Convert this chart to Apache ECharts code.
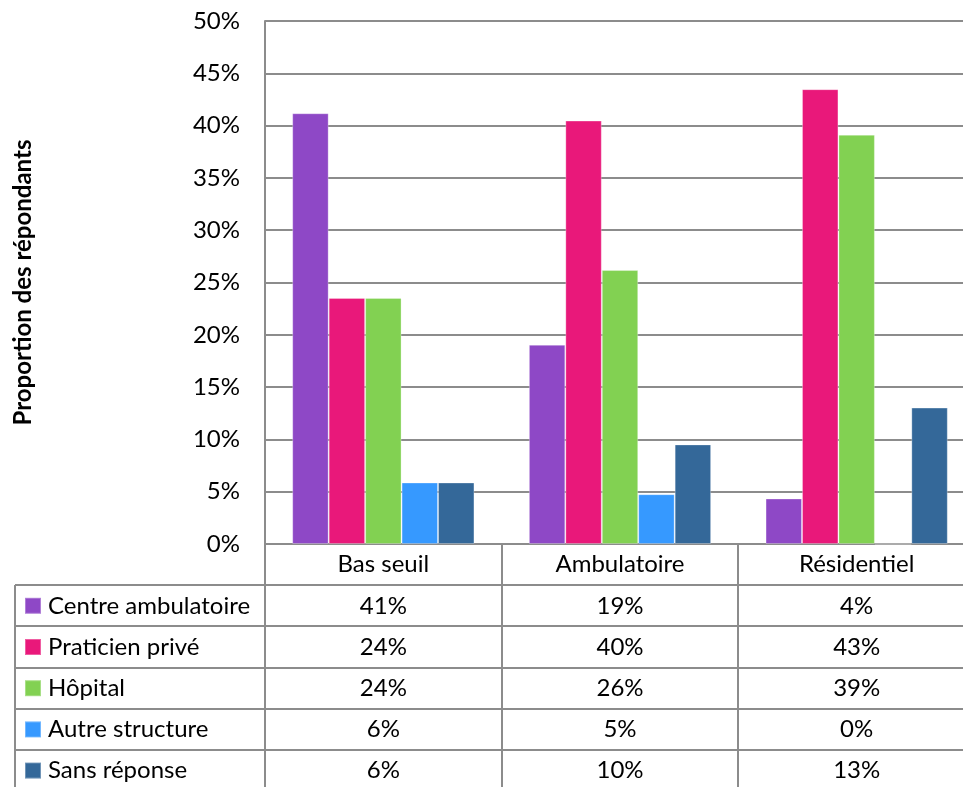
<!DOCTYPE html>
<html>
<head>
<meta charset="utf-8">
<script src="https://cdn.jsdelivr.net/npm/echarts@6/dist/echarts.min.js"></script>
<style>
  html, body { margin: 0; padding: 0; background: #fff; overflow: hidden; }
  /* the plot runs slightly past the right edge of the window */
  #chart { width: 990px; height: 787px; }
</style>
</head>
<body>
<div id="chart"></div>
<script>
// Catégories et séries (proportion des répondants, en %)
const categories = ['Bas seuil', 'Ambulatoire', 'Résidentiel'];
const seriesNames = ['Centre ambulatoire', 'Praticien privé', 'Hôpital', 'Autre structure', 'Sans réponse'];
const centreAmbulatoire = [41.18, 19.05, 4.35];
const praticienPrive   = [23.53, 40.48, 43.48];
const hopital          = [23.53, 26.19, 39.13];
const autreStructure   = [5.88, 4.76, 0];
const sansReponse      = [5.88, 9.52, 13.04];
const yTicks = [0, 5, 10, 15, 20, 25, 30, 35, 40, 45, 50];

const seriesValues = [centreAmbulatoire, praticienPrive, hopital, autreStructure, sansReponse];
const colors = ['#8E48C6', '#E9187A', '#82D152', '#3699FF', '#346899'];

const FONT = 'Lato';
const FS = 24;
const LINE = '#8C8C8C';
const GRID_LEFT = 265, GRID_TOP = 21, GRID_H = 523, GRID_W = 710;
const ROW_H = 41.2;
const TABLE_LEFT = 15;

const chart = echarts.init(document.getElementById('chart'), null, { renderer: 'canvas' });

const option = {
  animation: false,
  backgroundColor: '#fff',
  textStyle: { fontFamily: FONT, color: '#000' },
  grid: { left: GRID_LEFT, top: GRID_TOP, width: GRID_W, height: GRID_H, containLabel: false },
  legend: {
    orient: 'vertical',
    left: 24,
    top: GRID_TOP + GRID_H + ROW_H + ROW_H / 2 - 12,
    padding: 0,
    itemWidth: 16,
    itemHeight: 16,
    itemGap: ROW_H - 24,
    icon: 'rect',
    selectedMode: false,
    textStyle: { fontFamily: FONT, fontSize: FS, lineHeight: 24, color: '#000', padding: [0, 0, 0, 2] },
    data: seriesNames
  },
  xAxis: {
    type: 'category',
    data: categories,
    axisLine: { show: true, lineStyle: { color: LINE, width: 2 } },
    axisTick: { show: false },
    axisLabel: { fontFamily: FONT, fontSize: FS, color: '#000', margin: 8 },
    splitLine: { show: false }
  },
  yAxis: {
    type: 'value',
    min: yTicks[0],
    max: yTicks[yTicks.length - 1],
    interval: yTicks[1] - yTicks[0],
    name: 'Proportion des répondants',
    nameLocation: 'middle',
    nameRotate: 90,
    nameGap: 230,
    nameTextStyle: { fontFamily: FONT, fontSize: FS, fontWeight: 'bold', color: '#000' },
    axisLine: { show: true, lineStyle: { color: LINE, width: 2 } },
    axisTick: { show: false },
    axisLabel: { fontFamily: FONT, fontSize: FS, color: '#000', margin: 25, formatter: '{value}%' },
    splitLine: { show: true, lineStyle: { color: LINE, width: 2 } }
  },
  series: seriesNames.map((name, i) => ({
    name,
    type: 'bar',
    data: seriesValues[i],
    barGap: '0%',
    barCategoryGap: '23%',
    itemStyle: { color: colors[i], borderColor: 'rgba(255,255,255,0.3)', borderWidth: 1 }
  }))
};

chart.setOption(option);

// Tableau de données sous le graphique
function buildTable() {
  const g = [];
  const top = GRID_TOP + GRID_H;
  const right = GRID_LEFT + GRID_W;
  const bottom = 790;
  const lineStyle = { stroke: LINE, lineWidth: 2 };
  const n = categories.length;
  const step = GRID_W / n;

  // lignes horizontales des rangées
  for (let r = 1; r <= seriesNames.length; r++) {
    const y = Math.round(top + r * ROW_H);
    g.push({ type: 'line', shape: { x1: TABLE_LEFT, y1: y, x2: right, y2: y }, style: lineStyle, silent: true });
  }
  // bord gauche de la colonne des légendes
  g.push({ type: 'line', shape: { x1: TABLE_LEFT, y1: Math.round(top + ROW_H), x2: TABLE_LEFT, y2: bottom }, style: lineStyle, silent: true });
  // séparateurs verticaux entre catégories
  for (let c = 0; c <= n; c++) {
    const x = Math.round(GRID_LEFT + c * step);
    g.push({ type: 'line', shape: { x1: x, y1: top, x2: x, y2: bottom }, style: lineStyle, silent: true });
  }
  // valeurs arrondies
  seriesValues.forEach((vals, r) => {
    vals.forEach((v, c) => {
      const cx = chart.convertToPixel({ xAxisIndex: 0 }, categories[c]);
      const cy = top + (r + 1) * ROW_H + ROW_H / 2;
      g.push({
        type: 'text',
        x: cx, y: cy,
        style: { text: Math.round(v) + '%', fontFamily: FONT, fontSize: FS, fill: '#000', align: 'center', verticalAlign: 'middle' },
        silent: true
      });
    });
  });
  chart.setOption({ graphic: { elements: g } });
}
buildTable();
</script>
</body>
</html>
